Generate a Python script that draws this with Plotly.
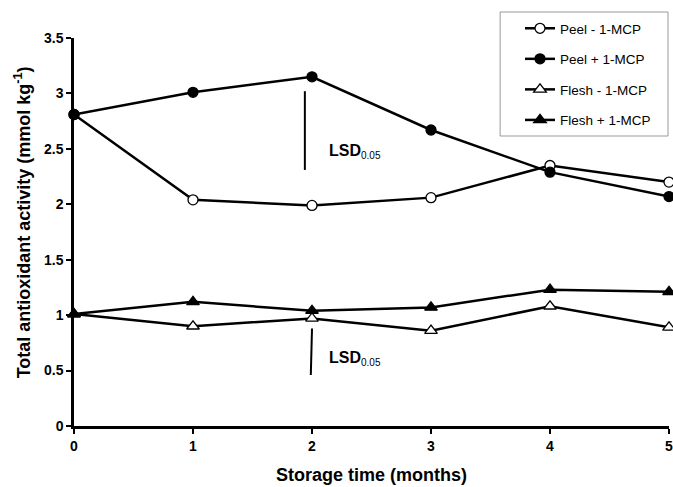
import plotly.graph_objects as go

months = [0, 1, 2, 3, 4, 5]
peel_minus = [2.81, 2.04, 1.99, 2.06, 2.35, 2.20]
peel_plus = [2.81, 3.01, 3.15, 2.67, 2.29, 2.07]
flesh_minus = [1.01, 0.90, 0.97, 0.86, 1.08, 0.89]
flesh_plus = [1.01, 1.12, 1.04, 1.07, 1.23, 1.21]

lsd_peel_x = [1.94, 1.94]
lsd_peel_y = [3.02, 2.31]
lsd_flesh_x = [2.0, 1.99]
lsd_flesh_y = [0.88, 0.46]
lsd_label_pos = [(2.13, 2.48), (2.13, 0.61)]

FONT = "Arial, 'Liberation Sans', sans-serif"
W, H = 673, 487
ML, MR, MT, MB = 74, 0, 38, 61
PW, PH = W - ML - MR, H - MT - MB

def px_x(p):
    return (p - ML) / PW

def px_y(p):
    return (H - MB - p) / PH

fig = go.Figure()

series = [
    ("Peel - 1-MCP", peel_minus, "circle", "white"),
    ("Peel + 1-MCP", peel_plus, "circle", "black"),
    ("Flesh - 1-MCP", flesh_minus, "triangle-up", "white"),
    ("Flesh + 1-MCP", flesh_plus, "triangle-up", "black"),
]
for i, (name, ys, sym, fill) in enumerate(series):
    fig.add_trace(go.Scatter(
        x=months, y=ys, name=name, mode="lines+markers",
        line=dict(color="black", width=2.5),
        marker=dict(symbol=sym, size=10 if sym == "circle" else 11, color=fill,
                    line=dict(color="black", width=1.3)),
        legendgroup=f"g{i}", cliponaxis=False,
    ))

for xs, ys in [(lsd_peel_x, lsd_peel_y), (lsd_flesh_x, lsd_flesh_y)]:
    fig.add_trace(go.Scatter(x=xs, y=ys, mode="lines", showlegend=False,
                             line=dict(color="black", width=2), hoverinfo="skip"))

for (ax, ay) in lsd_label_pos:
    fig.add_annotation(x=ax, y=ay, xref="x", yref="y", xanchor="left", yanchor="middle",
                       text="<b>LSD</b><sub><span style='font-size:10px'>0.05</span></sub>",
                       showarrow=False, font=dict(family=FONT, size=16, color="black"))

# y-axis title
fig.add_annotation(x=px_x(22), y=px_y(222), xref="paper", yref="paper",
                   xanchor="center", yanchor="middle", textangle=-90, showarrow=False,
                   text="<b>Total antioxidant activity (mmol kg<sup>-1</sup>)</b>",
                   font=dict(family=FONT, size=18, color="black"))

# legend frame
fig.add_shape(type="rect", xref="paper", yref="paper",
              x0=px_x(503), x1=px_x(672), y0=px_y(136), y1=px_y(12),
              line=dict(color="#999999", width=1), fillcolor="white", layer="below")

fig.update_layout(
    width=W, height=H,
    margin=dict(l=ML, r=MR, t=MT, b=MB),
    paper_bgcolor="white", plot_bgcolor="rgba(0,0,0,0)",
    font=dict(family=FONT, color="black"),
    showlegend=True,
    legend=dict(x=px_x(523), y=px_y(13), xanchor="left", yanchor="top",
                borderwidth=0, bgcolor="rgba(0,0,0,0)",
                font=dict(family=FONT, size=13.5, color="black"),
                tracegroupgap=10, traceorder="grouped"),
    xaxis=dict(range=[0, 5], tickvals=months, ticktext=[f"<b>{m}</b>" for m in months],
               showgrid=False, zeroline=False, showline=True, linecolor="black", linewidth=2.5,
               ticks="outside", ticklen=5, tickwidth=2, tickcolor="black",
               ticklabeloverflow="allow",
               tickfont=dict(family=FONT, size=14, color="black"),
               title=dict(text="<b>Storage time (months)</b>", standoff=16,
                          font=dict(family=FONT, size=18, color="black"))),
    yaxis=dict(range=[0, 3.5], tickvals=[0, 0.5, 1, 1.5, 2, 2.5, 3, 3.5],
               ticktext=["<b>0</b>", "<b>0.5</b>", "<b>1</b>", "<b>1.5</b>", "<b>2</b>",
                         "<b>2.5</b>", "<b>3</b>", "<b>3.5</b>"],
               showgrid=False, zeroline=False, showline=True, linecolor="black", linewidth=2.5,
               ticks="outside", ticklen=5, tickwidth=2, tickcolor="black",
               tickfont=dict(family=FONT, size=14, color="black")),
)

fig.write_html("out.html")
